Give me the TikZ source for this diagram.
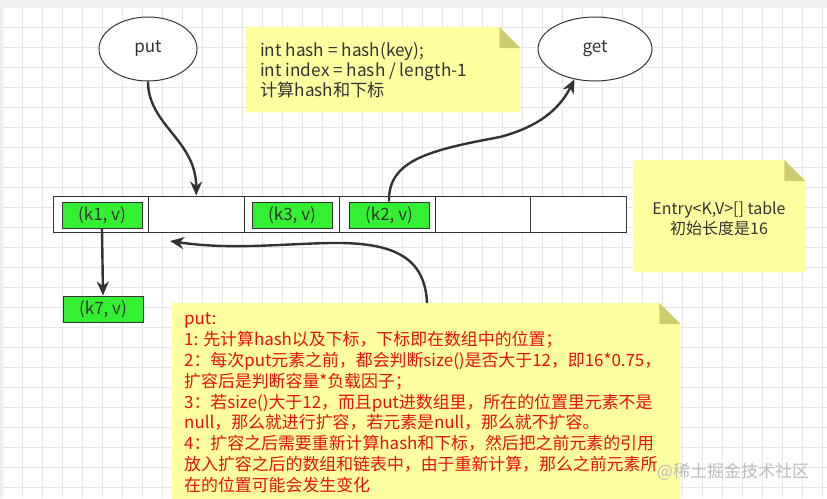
\documentclass[tikz,border=0pt]{standalone}
\usepackage{fontspec}
\setmainfont{Noto Sans CJK SC}
\usetikzlibrary{arrows.meta,shapes.geometric}
\definecolor{gridc}{HTML}{E6E6E6}
\definecolor{topband}{HTML}{F0F0F0}
\definecolor{ink}{HTML}{333333}
\definecolor{notey}{HTML}{FFFFA0}
\definecolor{foldy}{HTML}{CDCD6E}
\definecolor{greenb}{HTML}{33F033}
\definecolor{redt}{HTML}{E81010}
\definecolor{wmark}{HTML}{BDBDBD}
\tikzset{
  gridline/.style={draw=gridc, line width=0.9pt},
  oval/.style={ellipse, draw=ink, line width=1pt, fill=white, text=ink, font=\fontsize{17}{17}\selectfont},
  cell/.style={rectangle, draw=ink, line width=1pt, fill=white, minimum width=95.5pt, minimum height=36pt, inner sep=0pt},
  gbox/.style={rectangle, draw=ink, line width=1pt, fill=greenb, minimum width=80pt, minimum height=26pt, inner sep=0pt, text=ink, font=\fontsize{17}{17}\selectfont},
  notearea/.style={rectangle, draw=none, inner sep=0pt, anchor=north west},
  arr/.style={draw=ink, line width=2.4pt, -{Stealth[length=14pt,width=12pt]}},
}
\begin{document}
\begin{tikzpicture}[x=1pt,y=-1pt]
\useasboundingbox (0,0) rectangle (827,498);
\clip (0,0) rectangle (827,498);
\fill[topband] (0,0) rectangle (827,498);
\fill[white] (3,7.5) rectangle (827,498);
\foreach \x in {22.7,42.7,...,822.7} \draw[gridline] (\x,7.5) -- (\x,498);
\foreach \y in {27.3,47.3,...,487.3} \draw[gridline] (3,\y) -- (827,\y);

% notes: shapes
\node[notearea, minimum width=274pt, minimum height=85pt] (n1) at (246,27) {};
\fill[notey] (n1.north west) -- ([xshift=-21pt]n1.north east) -- ([yshift=-21pt]n1.north east) -- (n1.south east) -- (n1.south west) -- cycle;
\fill[foldy] ([xshift=-21pt]n1.north east) -- ([yshift=-21pt]n1.north east) -- ([xshift=-21pt,yshift=-21pt]n1.north east) -- cycle;

\node[notearea, minimum width=172pt, minimum height=112pt] (n2) at (633,160) {};
\fill[notey] (n2.north west) -- ([xshift=-21pt]n2.north east) -- ([yshift=-21pt]n2.north east) -- (n2.south east) -- (n2.south west) -- cycle;
\fill[foldy] ([xshift=-21pt]n2.north east) -- ([yshift=-21pt]n2.north east) -- ([xshift=-21pt,yshift=-21pt]n2.north east) -- cycle;

\node[notearea, minimum width=508pt, minimum height=210pt] (n3) at (172,303) {};
\fill[notey] (n3.north west) -- ([xshift=-21pt]n3.north east) -- ([yshift=-21pt]n3.north east) -- (n3.south east) -- (n3.south west) -- cycle;
\fill[foldy] ([xshift=-21pt]n3.north east) -- ([yshift=-21pt]n3.north east) -- ([xshift=-21pt,yshift=-21pt]n3.north east) -- cycle;

% note texts
\node[anchor=north west, inner sep=0pt, align=left, text=ink, font=\fontsize{17.2}{20}\selectfont] (n1t) at (260,42)
  {int hash = hash(key);\\int index = hash / length-1\\计算hash和下标};
\node[inner sep=0pt, align=center, text=ink, font=\fontsize{16}{20}\selectfont] (n2t) at (719,219)
  {Entry<K,V>[] table\\初始长度是16};
\node[anchor=north west, inner sep=0pt, align=left, text=redt, font=\fontsize{16.9}{20.8}\selectfont] (n3t) at (184,313)
  {put:\\
   1: 先计算hash以及下标，下标即在数组中的位置；\\
   2：每次put元素之前，都会判断size()是否大于12，即16*0.75，\\
   扩容后是判断容量*负载因子；\\
   3：若size()大于12，而且put进数组里，所在的位置里元素不是\\
   null，那么就进行扩容，若元素是null，那么就不扩容。\\
   4：扩容之后需要重新计算hash和下标，然后把之前元素的引用\\
   放入扩容之后的数组和链表中，由于重新计算，那么之前元素所\\
   在的位置可能会发生变化};

% ovals
\node[oval, minimum width=98pt, minimum height=64pt, inner sep=0pt] (put) at (148,49) {put};
\node[oval, minimum width=114pt, minimum height=64pt, inner sep=0pt] (get) at (595,49) {get};

% array cells
\node[cell] (c1) at (100.75,214) {};
\node[cell] (c2) at (196.25,214) {};
\node[cell] (c3) at (291.75,214) {};
\node[cell] (c4) at (387.25,214) {};
\node[cell] (c5) at (482.75,214) {};
\node[cell] (c6) at (578.25,214) {};

% entries
\node[gbox] (k1) at (102,215) {(k1, v)};
\node[gbox] (k3) at (292,215) {(k3, v)};
\node[gbox] (k2) at (389,215) {(k2, v)};
\node[gbox] (k7) at (103,309) {(k7, v)};

% connectors
\draw[arr] (put.south) .. controls (148,125) and (196,140) .. (c2.north);
\draw[arr] (k2.north) .. controls (388,160) and (430,150) .. (500,137) .. controls (545,125) and (562,104) .. (get.-124);
\draw[arr] (k1.south) -- (k7.north);
\coordinate (bs) at (427,303);
\coordinate (bt) at (170,241);
\draw[arr] (bs) .. controls (425,255) and (390,242) .. (330,243) .. controls (280,244) and (230,250) .. (bt);

% watermark
\node[text=wmark, font=\fontsize{17}{17}\selectfont, inner sep=0pt] (wm) at (733,472) {@稀土掘金技术社区};
\end{tikzpicture}
\end{document}
